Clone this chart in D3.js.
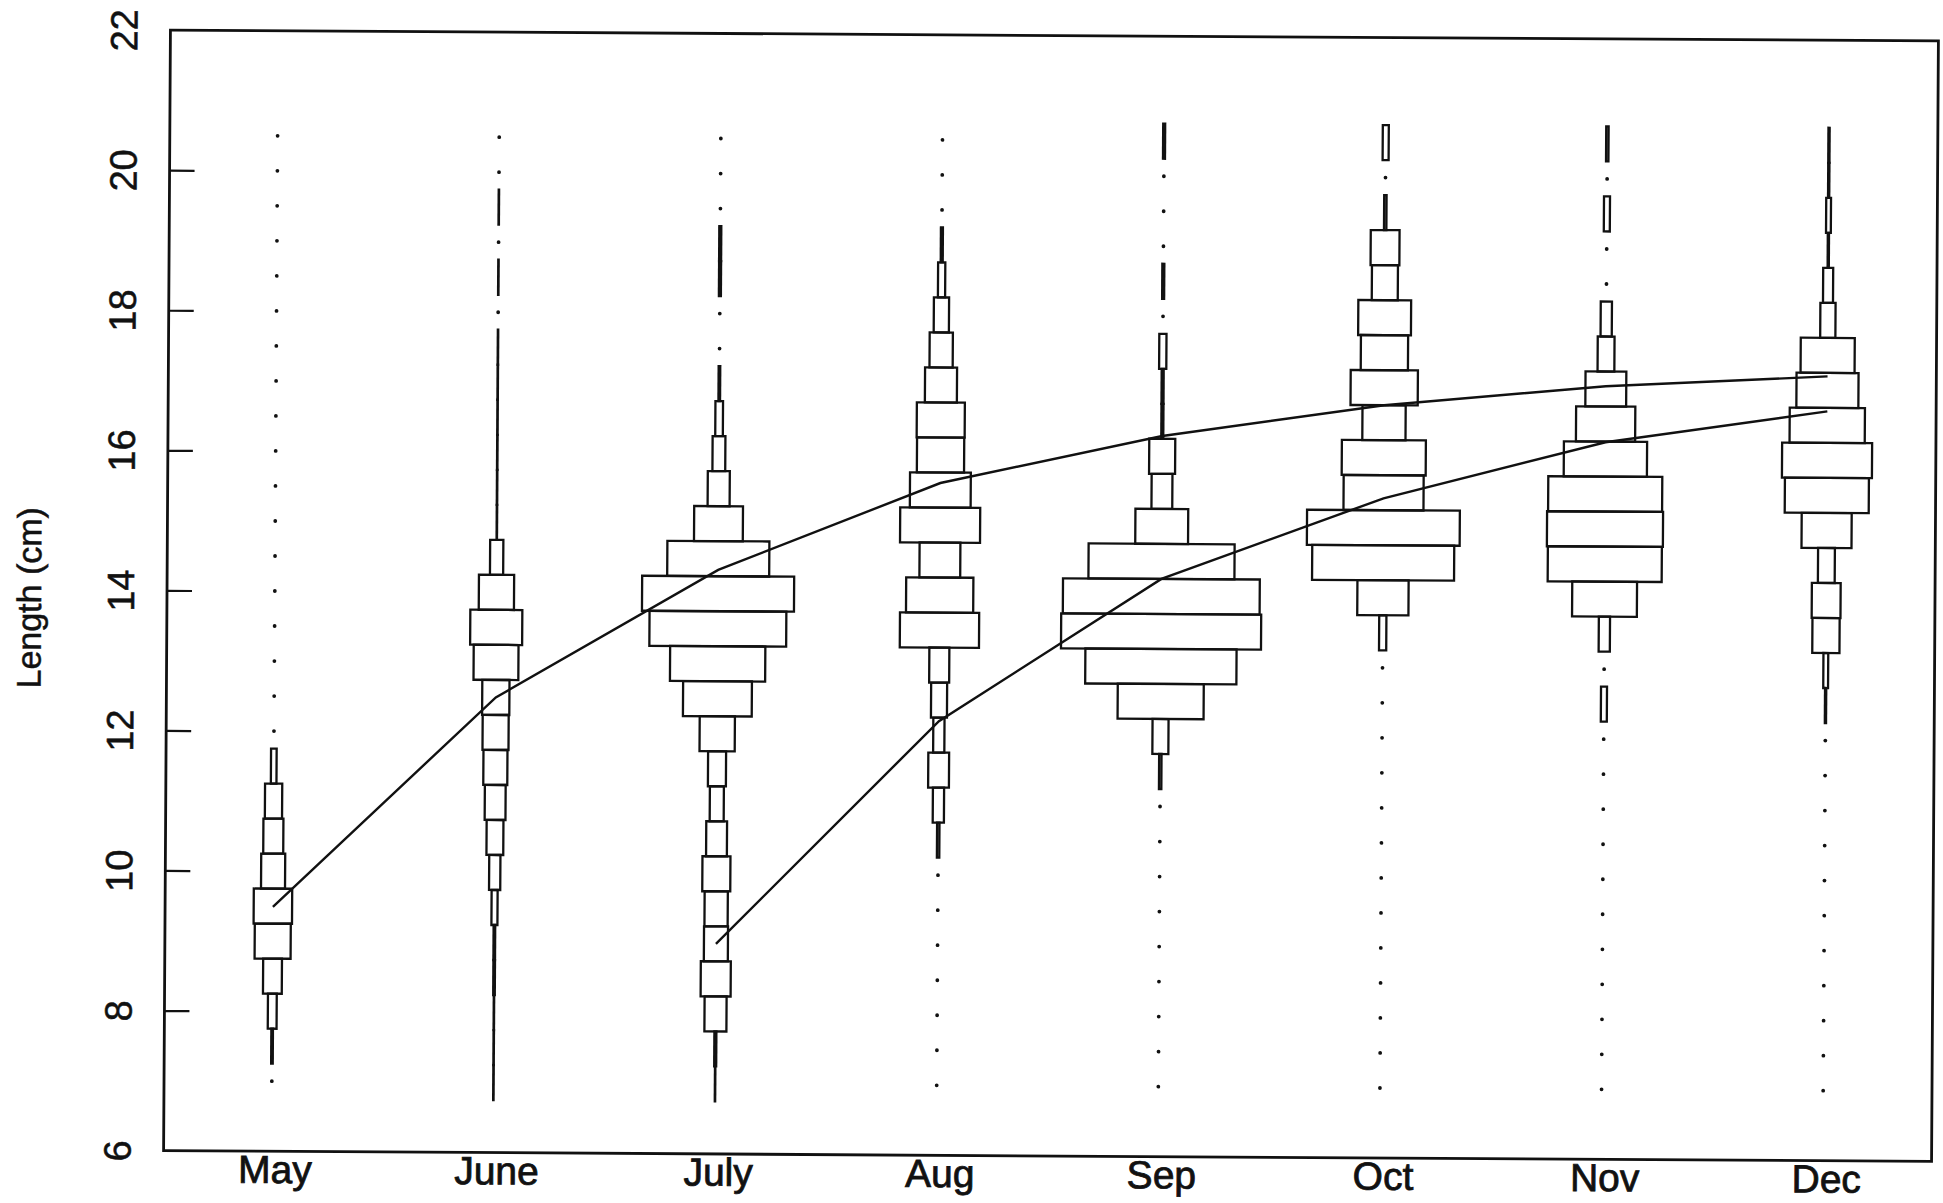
<!DOCTYPE html>
<html lang="en">
<head>
<meta charset="UTF-8">
<title>Length frequency by month</title>
<script src="https://cdn.jsdelivr.net/npm/d3@7"></script>
<style>
  body { margin: 0; background: #fff; }
  svg text { font-family: "Liberation Sans", Arial, Helvetica, sans-serif; fill: #111; stroke: #111; stroke-width: 0.5px; }
</style>
</head>
<body>
<svg id="chart" width="1943" height="1203"></svg>
<script>
// months along the x axis
const months = ["May", "June", "July", "Aug", "Sep", "Oct", "Nov", "Dec"];

// length classes (cm), centre of each 0.5 cm bin
const bins = [7, 7.5, 8, 8.5, 9, 9.5, 10, 10.5, 11, 11.5, 12, 12.5, 13, 13.5,
              14, 14.5, 15, 15.5, 16, 16.5, 17, 17.5, 18, 18.5, 19, 19.5, 20, 20.5];

// relative frequency per bin, one list per month (0 = empty bin, drawn as a dot)
const freqMay  = [0, 0.4, 2.2, 4.7, 9, 9.6, 6, 5, 4.3, 1.4, 0, 0, 0, 0,
                  0, 0, 0, 0, 0, 0, 0, 0, 0, 0, 0, 0, 0, 0];
const freqJune = [0.1, 0.1, 0.1, 0.4, 0.4, 1.5, 2.8, 4.2, 5.2, 6, 6.5, 6.8, 11.2, 13,
                  8.8, 3.3, 0.1, 0.1, 0.1, 0.1, 0.1, 0.1, 0, 0.1, 0, 0.1, 0, 0];
const freqJuly = [0.1, 0.5, 5.5, 7.5, 6, 5.8, 7, 5.2, 3.5, 4.5, 8.8, 17.2, 23.8, 34.2,
                  38, 25.5, 12.2, 5.5, 3.2, 1.9, 0.4, 0, 0, 0.5, 0.5, 0, 0, 0];
const freqAug  = [0, 0, 0, 0, 0, 0, 0, 0.6, 2.8, 5.2, 2.8, 4, 5, 19.8,
                  16.8, 10.2, 20, 15.2, 11.8, 12, 8, 5.8, 3.8, 1.8, 0.5, 0, 0, 0];
const freqSep  = [0, 0, 0, 0, 0, 0, 0, 0, 0, 0.6, 4, 21.5, 37.8, 50,
                  49.2, 36.5, 13.2, 5.2, 6.5, 0.5, 0.5, 1.8, 0, 0.5, 0, 0, 0, 0.5];
const freqOct  = [0, 0, 0, 0, 0, 0, 0, 0, 0, 0, 0, 0, 0, 1.8,
                  12.8, 35.5, 38.2, 20, 21, 10.8, 16.8, 11.8, 13.2, 6.5, 7.2, 0.6, 0, 1.5];
const freqNov  = [0, 0, 0, 0, 0, 0, 0, 0, 0, 0, 0, 1.5, 0, 2.8,
                  16.2, 28.5, 29, 28.5, 20.8, 14.8, 10.2, 4.2, 2.8, 0, 0, 1.5, 0, 0.6];
const freqDec  = [0, 0, 0, 0, 0, 0, 0, 0, 0, 0, 0, 0.3, 1.2, 6.8,
                  7.2, 4.2, 12.5, 21, 22.5, 18.8, 15.5, 13.5, 3.8, 2.5, 0.3, 1.2, 0.3, 0.3];
const freqs = [freqMay, freqJune, freqJuly, freqAug, freqSep, freqOct, freqNov, freqDec];

// fitted mean length of the two cohorts
const cohortAMonths = ["May", "June", "July", "Aug", "Sep", "Oct", "Nov", "Dec"];
const cohortALength = [9.49, 12.5, 14.34, 15.6, 16.29, 16.75, 17.04, 17.2];
const cohortBMonths = ["July", "Aug", "Sep", "Oct", "Nov", "Dec"];
const cohortBLength = [9.0, 12.2, 14.25, 15.42, 16.24, 16.7];

const yTicks = [6, 8, 10, 12, 14, 16, 18, 20, 22];

const svg = d3.select("#chart");
const plotLeft = 167, plotRight = 1935, plotTop = 35.5, plotBottom = 1156;

// the scanned page sits slightly askew, so the whole figure is turned a touch
const root = svg.append("g")
    .attr("transform", `rotate(0.35, ${(plotLeft + plotRight) / 2}, ${(plotTop + plotBottom) / 2})`);

const x = d3.scalePoint().domain(months).range([164, 1937]).padding(0.5);
const y = d3.scaleLinear().domain([6, 22]).range([plotBottom, plotTop]);
const w = d3.scaleLinear().domain([0, 50]).range([0, 200]);
const half = 0.25;

// frequency boxes and empty-bin dots
months.forEach((m, i) => {
    const g = root.append("g").attr("class", "month");
    const cells = bins.map((b, j) => ({ len: b, f: freqs[i][j] }));

    g.selectAll("rect")
        .data(cells.filter(d => d.f > 0))
        .join("rect")
        .attr("x", d => x(m) - w(d.f) / 2)
        .attr("y", d => y(d.len + half))
        .attr("width", d => w(d.f))
        .attr("height", d => y(d.len - half) - y(d.len + half))
        .attr("fill", "none")
        .attr("stroke", "#111")
        .attr("stroke-width", 2.3);

    g.selectAll("circle")
        .data(cells.filter(d => d.f === 0))
        .join("circle")
        .attr("cx", x(m))
        .attr("cy", d => y(d.len))
        .attr("r", 1.9)
        .attr("fill", "#111");
});

// growth curves
const line = d3.line().x(d => x(d[0])).y(d => y(d[1]));
[[cohortAMonths, cohortALength], [cohortBMonths, cohortBLength]].forEach(([ms, ls]) => {
    root.append("path")
        .datum(ms.map((m, k) => [m, ls[k]]))
        .attr("d", line)
        .attr("fill", "none")
        .attr("stroke", "#111")
        .attr("stroke-width", 2.4);
});

// y axis: inward ticks, rotated labels
const yAxis = root.append("g")
    .attr("transform", `translate(${plotLeft},0)`)
    .call(d3.axisLeft(y).tickValues(yTicks).tickSizeInner(-25).tickSizeOuter(0).tickFormat(d3.format("d")));
yAxis.select(".domain").remove();
yAxis.selectAll(".tick line")
    .attr("stroke", "#111")
    .attr("stroke-width", 2.2)
    .attr("display", d => (d === 6 || d === 22) ? "none" : null);
yAxis.selectAll(".tick text")
    .attr("x", null)
    .attr("dy", null)
    .attr("text-anchor", "middle")
    .attr("transform", "translate(-33,0) rotate(-90)")
    .style("font-size", "38px");

// x axis: month names only
const xAxis = root.append("g")
    .attr("transform", `translate(0,${plotBottom})`)
    .call(d3.axisBottom(x).tickSize(0).tickPadding(4));
xAxis.select(".domain").remove();
xAxis.selectAll(".tick text")
    .attr("dx", "0.08em")
    .style("font-size", "39px")
    .style("stroke-width", "0.8px");

// frame
root.append("rect")
    .attr("x", plotLeft).attr("y", plotTop)
    .attr("width", plotRight - plotLeft).attr("height", plotBottom - plotTop)
    .attr("fill", "none")
    .attr("stroke", "#111")
    .attr("stroke-width", 2.8);

// axis title
root.append("text")
    .attr("transform", "translate(41,604) rotate(-90)")
    .attr("text-anchor", "middle")
    .style("font-size", "34px")
    .text("Length (cm)");
</script>
</body>
</html>
